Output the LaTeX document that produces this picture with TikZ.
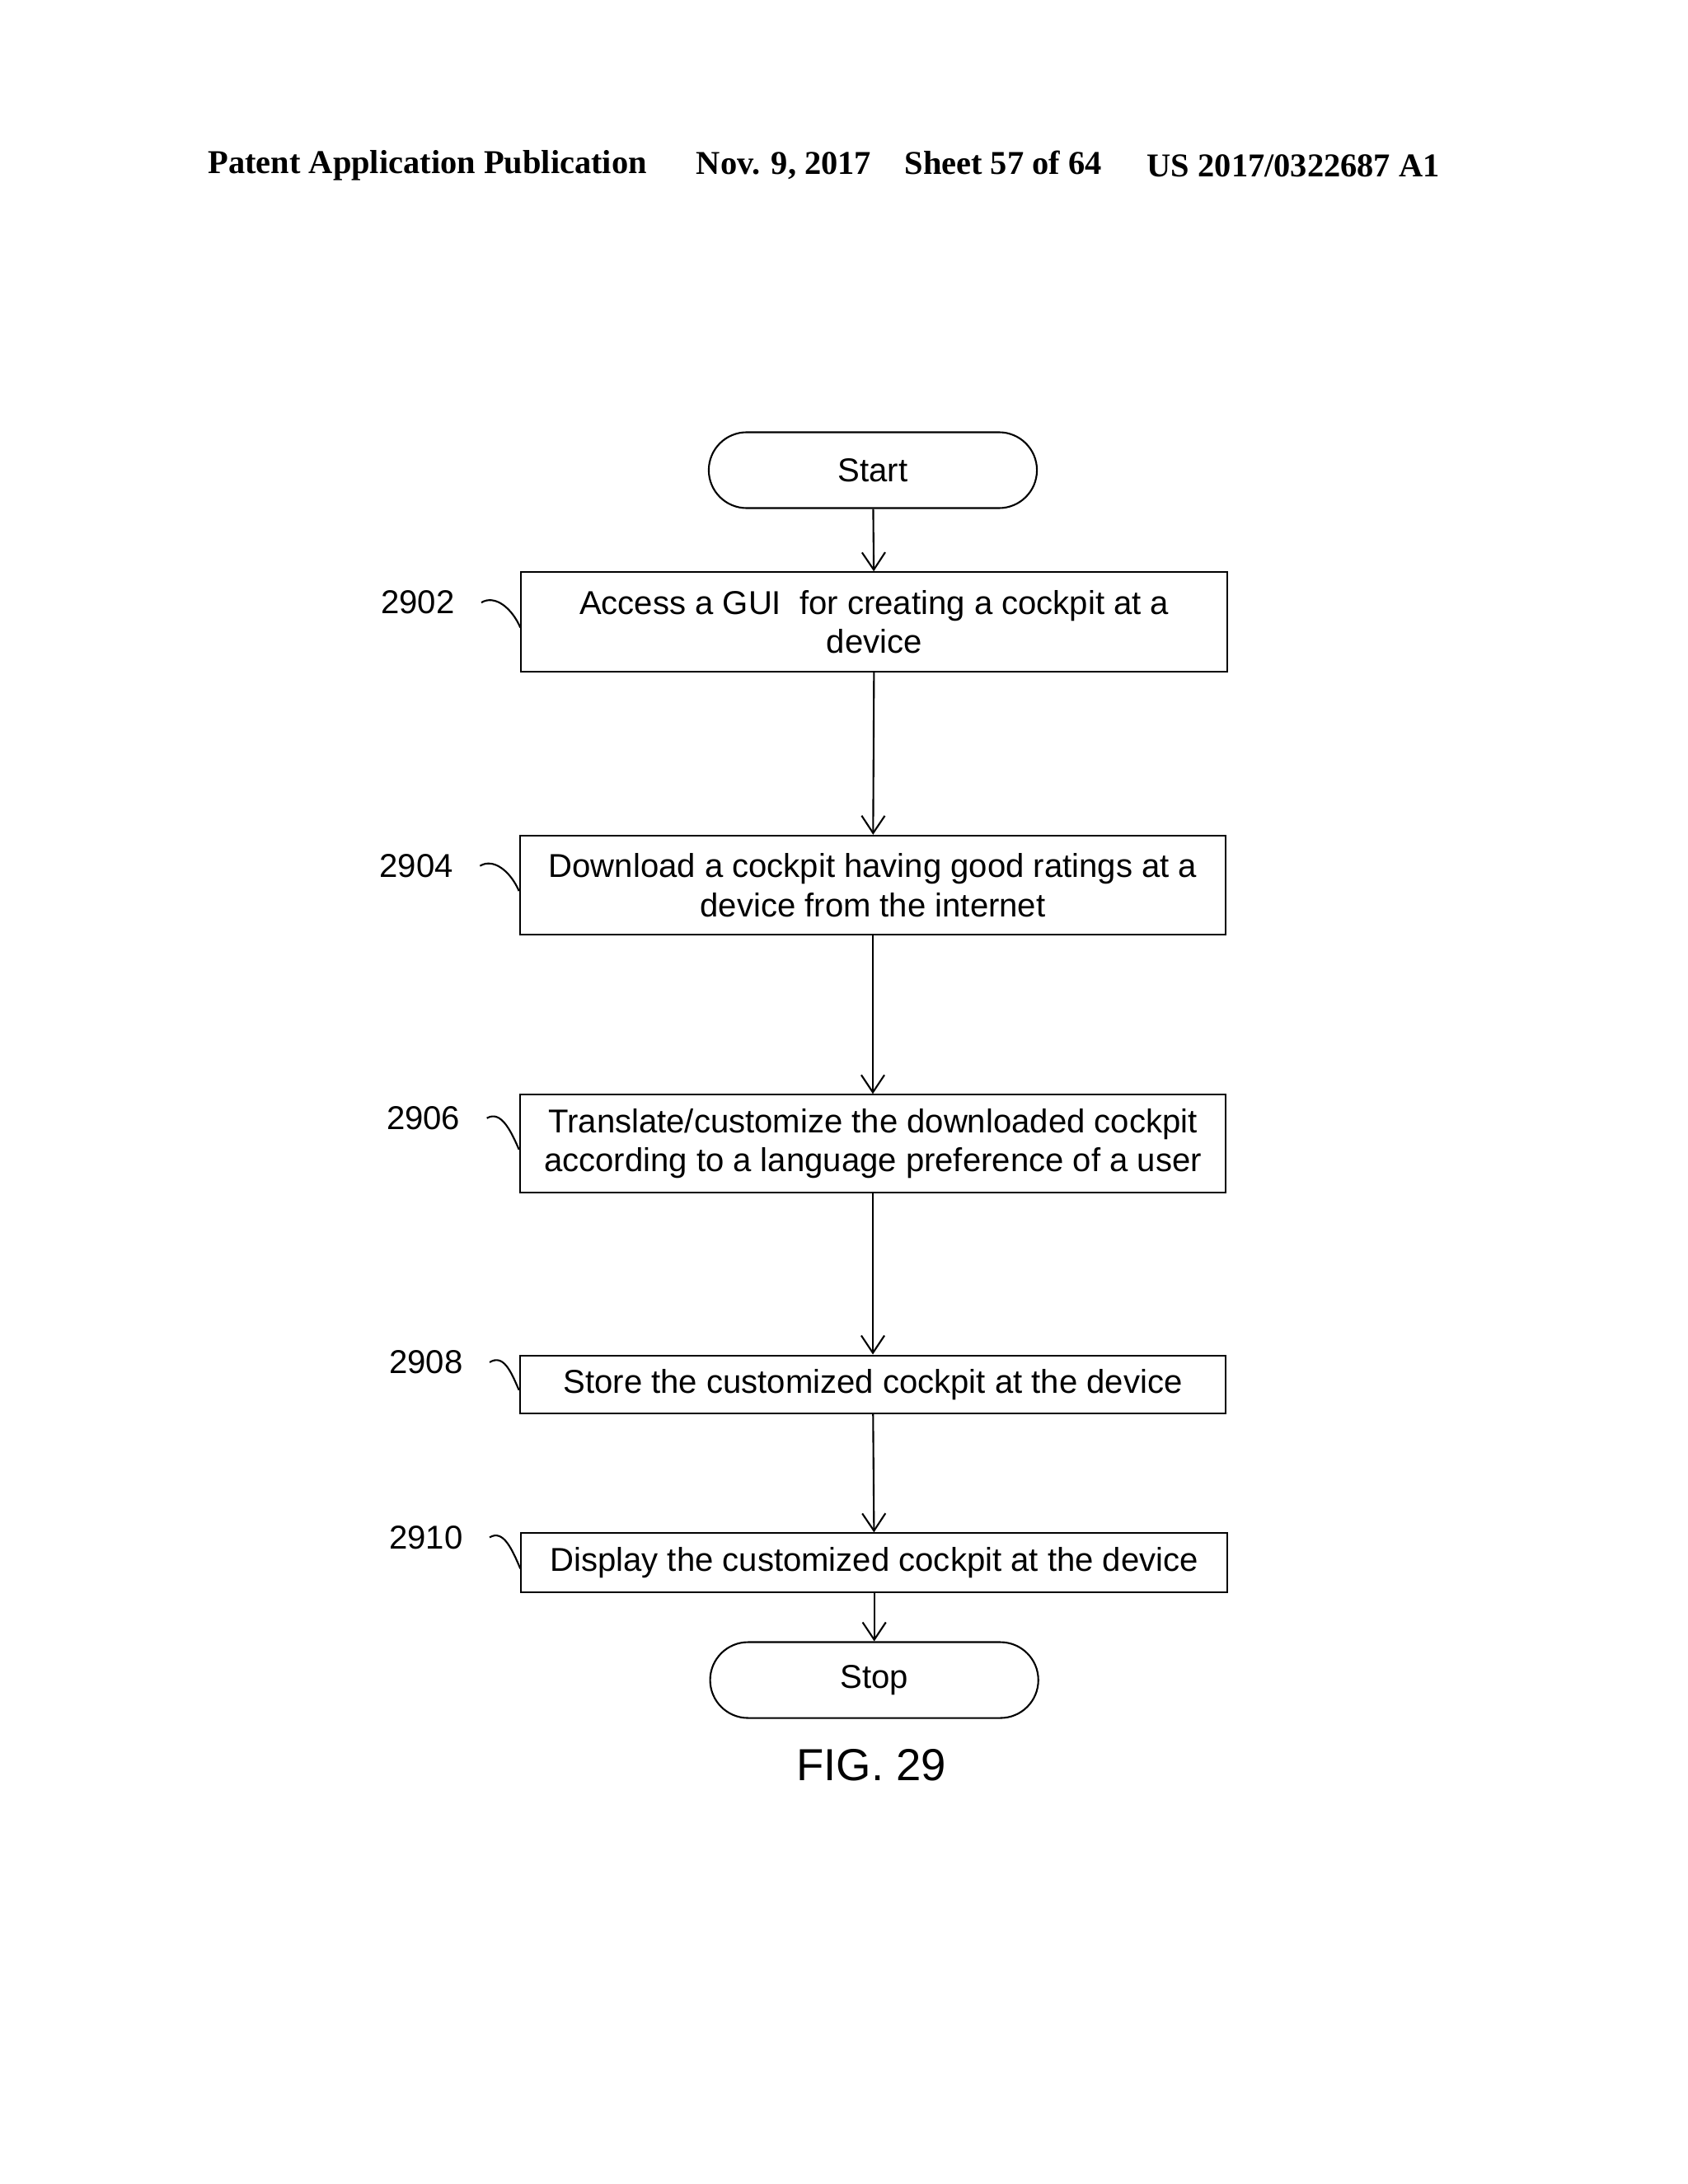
\documentclass[tikz,border=0pt]{standalone}
\usepackage{fontspec}
\setmainfont{Liberation Sans}
\newfontfamily\hdr{Liberation Serif}
\begin{document}
\begin{tikzpicture}[x=0.01673cm,y=-0.01673cm,
  box/.style={draw,line width=0.6pt,inner sep=0pt,font=\fontsize{11.4}{13.5}\selectfont,align=center},
  term/.style={draw,line width=0.6pt,rounded corners=27.5*0.01673cm,minimum width=238*0.01673cm,minimum height=55*0.01673cm,font=\fontsize{11.4}{13.5}\selectfont},
  lbl/.style={font=\fontsize{11.4}{13.5}\selectfont},
  arr/.style={->,line width=0.6pt,>={Straight Barb[length=6pt,width=8pt]}}]
\usetikzlibrary{arrows.meta}
\useasboundingbox (0,0) rectangle (1224,1584);
\node[font=\hdr\bfseries\fontsize{11.5}{13}\selectfont] (h1) at (310,120) {Patent Application Publication};
\node[font=\hdr\bfseries\fontsize{11.5}{13}\selectfont] (h2) at (652,120) {Nov. 9, 2017\quad Sheet 57 of 64};
\node[font=\hdr\bfseries\fontsize{11.5}{13}\selectfont] (h3) at (938,120) {US 2017/0322687 A1};
\node[term] (start) at (633,341) {Start};
\node[box,minimum width=512*0.01673cm,minimum height=72*0.01673cm] (b1) at (634,451) {Access a GUI\ \ for creating a cockpit at a\\device};
\node[box,minimum width=512*0.01673cm,minimum height=72*0.01673cm] (b2) at (633,642) {Download a cockpit having good ratings at a\\device from the internet};
\node[box,minimum width=512*0.01673cm,minimum height=71*0.01673cm] (b3) at (633,829.5) {Translate/customize the downloaded cockpit\\according to a language preference of a user};
\node[box,minimum width=512*0.01673cm,minimum height=42*0.01673cm] (b4) at (633,1004) {Store the customized cockpit at the device};
\node[box,minimum width=512*0.01673cm,minimum height=43*0.01673cm] (b5) at (634,1133.5) {Display the customized cockpit at the device};
\node[term] (stop) at (634,1218.5) {Stop};
\node[font=\fontsize{15.5}{17}\selectfont] (fig) at (632,1280) {FIG. 29};
\draw[arr] (start) -- (b1);
\draw[arr] (b1) -- (b2);
\draw[arr] (b2) -- (b3);
\draw[arr] (b3) -- (b4);
\draw[arr] (b4) -- (b5);
\draw[arr] (b5) -- (stop);
\foreach \n/\t/\x/\y/\b in {l1/2902/303/437/b1,l2/2904/302/628/b2,l3/2906/307/811/b3,l4/2908/309/988/b4,l5/2910/309/1115/b5}{
  \node[lbl] (\n) at (\x,\y) {\t};
  \draw[line width=0.6pt] (\n.east) ++(12,0) .. controls +(10,-6) and +(-6,-14) .. ([yshift=-2]\b.west);
}
\end{tikzpicture}
\end{document}
